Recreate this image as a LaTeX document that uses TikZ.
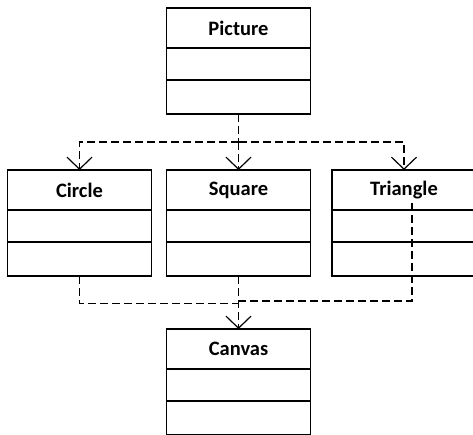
\documentclass[tikz,border=0pt]{standalone}
\usepackage{fontspec}
\setmainfont{Carlito}
\usetikzlibrary{arrows.meta}
\begin{document}
\begin{tikzpicture}[x=1pt,y=-1pt,
  box/.style={draw, line width=1.8pt, minimum width=144pt, inner sep=0pt, outer sep=0pt, anchor=north},
  head/.style={box, minimum height=40pt, font=\fontsize{20.5}{24}\selectfont\bfseries},
  slot/.style={box, minimum height=32pt},
  lastslot/.style={box, minimum height=34pt},
  link/.style={draw, line width=1.2pt, dash pattern=on 8pt off 4pt},
  vee/.style={-{Straight Barb[length=12pt,width=25pt,line width=1.2pt]}}
]
\useasboundingbox (0,0) rectangle (473,434);
\clip (0,0) rectangle (473,434);

% classes: a header with the name and two empty compartments
\node[head] (pic) at (238.5,8) {Picture};
\node[slot] (pic1) at (pic.south) {};
\node[lastslot] (pic2) at (pic1.south) {};

\node[head] (circ) at (79.5,170) {Circle};
\node[slot] (circ1) at (circ.south) {};
\node[lastslot] (circ2) at (circ1.south) {};

\node[head] (sq) at (238.5,170) {Square};
\node[slot] (sq1) at (sq.south) {};
\node[lastslot] (sq2) at (sq1.south) {};

\node[head] (tri) at (404,170) {Triangle};
\node[slot] (tri1) at (tri.south) {};
\node[lastslot] (tri2) at (tri1.south) {};

\node[head] (can) at (238.5,329) {Canvas};
\node[slot] (can1) at (can.south) {};
\node[lastslot] (can2) at (can1.south) {};

% dependencies from Picture to the shapes
\coordinate (fork) at (238.5,142);
\draw[link] (pic2.south) -- (fork);
\draw[link,vee] (fork) -| (circ.north);
\draw[link,vee] (fork) -- (sq.north);
\draw[link,vee] (fork) -| (tri.north);

% dependencies from the shapes to Canvas
\coordinate (cjoin) at (238.5,303.5);
\coordinate (tstart) at (412,203);
\coordinate (tjoin) at (238.5,301);
\draw[link] (circ2.south) |- (cjoin);
\draw[link] (tstart) |- (tjoin);
\draw[link,vee] (sq2.south) -- (can.north);
\end{tikzpicture}
\end{document}
